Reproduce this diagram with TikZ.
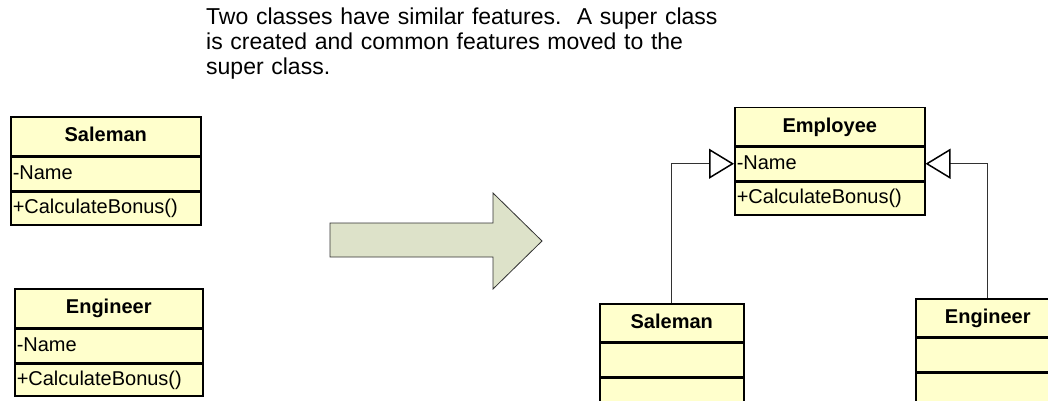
\documentclass[tikz,border=0pt]{standalone}
\usepackage{fontspec}
\setmainfont{Liberation Sans}
\usetikzlibrary{arrows.meta}
\definecolor{umlyellow}{RGB}{255,255,204}
\definecolor{arrowfill}{RGB}{221,226,201}
\definecolor{linegray}{RGB}{50,50,50}
\tikzset{
  comp/.style={draw=black, fill=umlyellow, line width=1.5pt, anchor=north west,
    inner xsep=2pt, inner ysep=0pt, font=\fontsize{20}{20}\selectfont,
    text height=15pt, text depth=4pt, align=left},
  head/.style={comp, font=\bfseries\fontsize{20}{20}\selectfont, align=center},
  gen/.style={draw=linegray, line width=1.4pt,
    -{Triangle[open, length=25pt, width=30pt, line width=1.5pt, color=black]}},
  blockarrow/.style={draw=linegray, line width=0.8pt, fill=arrowfill},
  caption/.style={anchor=north west, inner sep=0pt, text width=540pt, align=left,
    font=\fontsize{23}{25}\selectfont}
}
\begin{document}
\begin{tikzpicture}[x=1pt, y=-1pt]
\useasboundingbox (0,0) rectangle (1048,401);
\clip (0,0) rectangle (1048,401);

% caption
\node[caption] (cap) at (206,8) {Two classes have similar features.\ \ A super class\\is created and common features moved to the\\super class.};

% left Saleman
\node[head, minimum height=39pt, text width=186pt] (lsalh) at (10,116) {Saleman};
\node[comp, minimum height=33pt, text width=186pt] (lsala) at (lsalh.south west) {-Name};
\node[comp, minimum height=33pt, text width=186pt] (lsalo) at (lsala.south west) {+CalculateBonus()};

% left Engineer
\node[head, minimum height=39pt, text width=184pt] (lengh) at (14,288) {Engineer};
\node[comp, minimum height=33pt, text width=184pt] (lenga) at (lengh.south west) {-Name};
\node[comp, minimum height=32pt, text width=184pt] (lengo) at (lenga.south west) {+CalculateBonus()};

% block arrow
\draw[blockarrow] (330,223) -- (493,223) -- (493,193) -- (542,241) -- (493,289) -- (493,257) -- (330,257) -- cycle;

% Employee
\node[head, minimum height=38pt, text width=186pt] (emph) at (734,107) {Employee};
\node[comp, minimum height=33pt, text width=186pt] (empa) at (emph.south west) {-Name};
\node[comp, minimum height=33pt, text width=186pt] (empo) at (empa.south west) {+CalculateBonus()};

% right Saleman
\node[head, minimum height=38pt, text width=140pt] (rsalh) at (599,303) {Saleman};
\node[comp, minimum height=33pt, text width=140pt] (rsala) at (rsalh.south west) {};
\node[comp, minimum height=33pt, text width=140pt] (rsalo) at (rsala.south west) {};

% right Engineer
\node[head, minimum height=38pt, text width=140pt] (rengh) at (915,298) {Engineer};
\node[comp, minimum height=33pt, text width=140pt] (renga) at (rengh.south west) {};
\node[comp, minimum height=33pt, text width=140pt] (rengo) at (renga.south west) {};

% generalisations
\draw[gen] (rsalh.north) |- (empa.west);
\draw[gen] (rengh.north) |- (empa.east);
\end{tikzpicture}
\end{document}
